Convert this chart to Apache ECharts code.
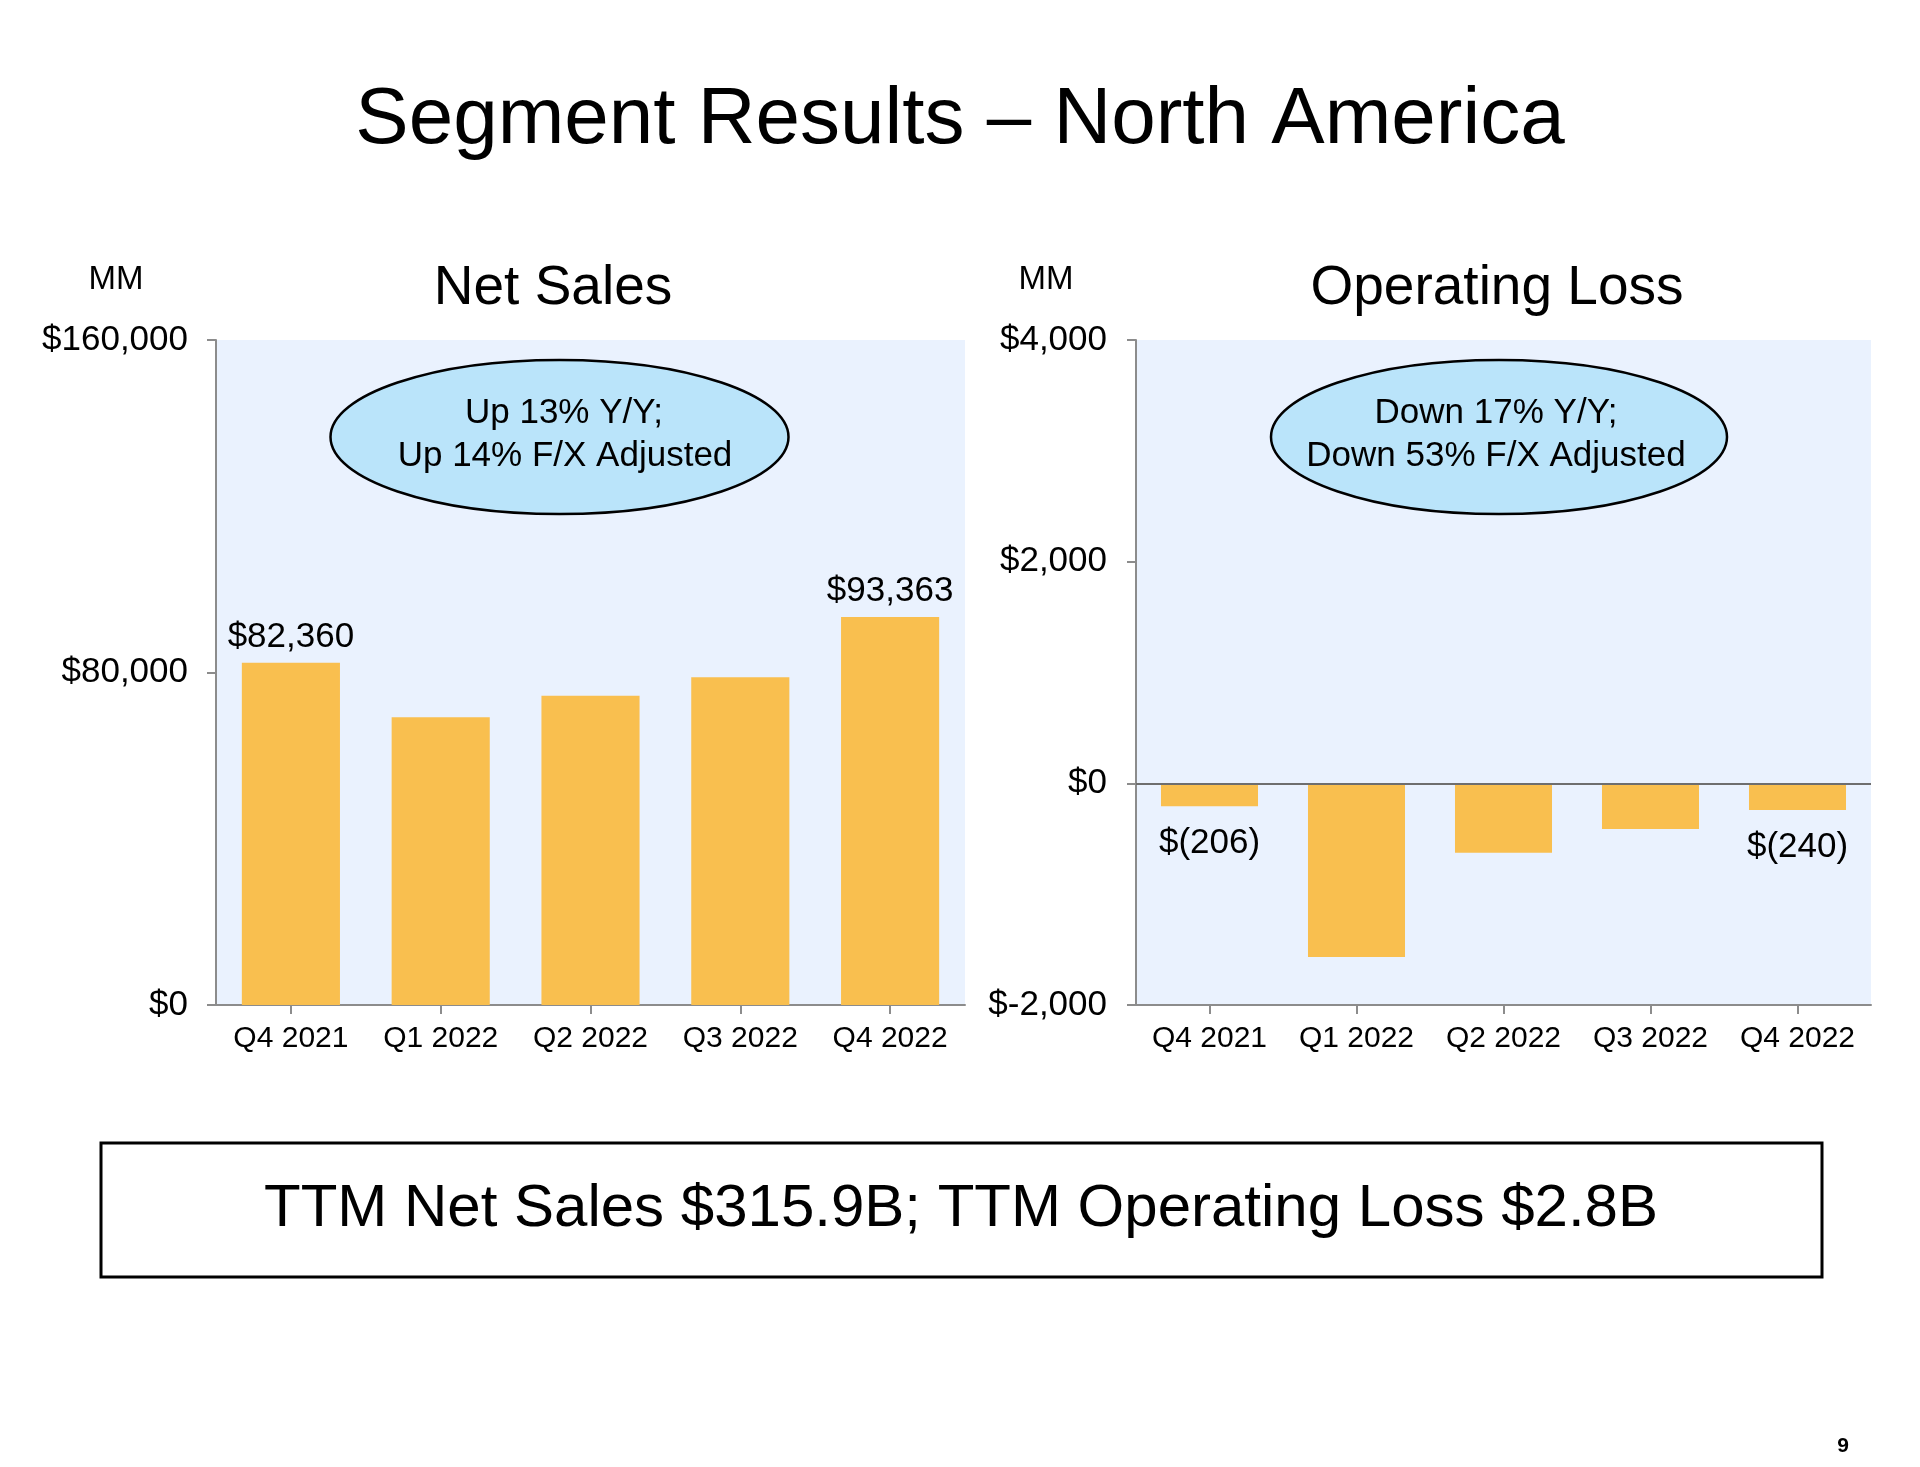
<!DOCTYPE html>
<html>
<head>
<meta charset="utf-8">
<script src="https://cdn.jsdelivr.net/npm/echarts@6/dist/echarts.min.js"></script>
<style>
html,body{margin:0;padding:0;background:#fff;}
#chart{width:1920px;height:1467px;}
</style>
</head>
<body>
<div id="chart"></div>
<script>
// ---- Data ----
const categories = ['Q4 2021', 'Q1 2022', 'Q2 2022', 'Q3 2022', 'Q4 2022'];
const netSales = [82360, 69244, 74430, 78843, 93363];
const operatingLoss = [-206, -1568, -627, -412, -240];
const netSalesTicks = [0, 80000, 160000];
const opLossTicks = [-2000, 0, 2000, 4000];
const netSalesLabelled = [0, 4];
const opLossLabelled = [0, 4];
const pageTitle = 'Segment Results \u2013 North America';
const leftTitle = 'Net Sales';
const rightTitle = 'Operating Loss';
const unitLabel = 'MM';
const leftNote = ['Up 13% Y/Y;', 'Up 14% F/X Adjusted'];
const rightNote = ['Down 17% Y/Y;', 'Down 53% F/X Adjusted'];
const footerText = 'TTM Net Sales $315.9B; TTM Operating Loss $2.8B';
const pageNumber = '9';

// ---- Styles ----
const FONT = "'Liberation Sans', Arial, Helvetica, sans-serif";
const BAR = '#F9BF4F';
const PLOTBG = '#EAF2FE';
const AXIS = '#8C8C8C';
const ELLIPSE = '#BAE4FA';

const fmtMoney = v => '$' + v.toLocaleString('en-US');
const fmtParen = v => v < 0 ? '$(' + Math.abs(v).toLocaleString('en-US') + ')' : fmtMoney(v);

function axisCommon() {
  return {
    axisLine: { show: true, onZero: false, lineStyle: { color: AXIS, width: 2 } },
    axisTick: { show: true, length: 9, lineStyle: { color: AXIS, width: 2 } },
    splitLine: { show: false }
  };
}

const chart = echarts.init(document.getElementById('chart'), null, { renderer: 'canvas' });

const option = {
  backgroundColor: '#ffffff',
  animation: false,
  textStyle: { fontFamily: FONT },
  grid: [
    { left: 216, top: 340, width: 749, height: 665, show: true, backgroundColor: PLOTBG, borderWidth: 0 },
    { left: 1136, top: 340, width: 735, height: 665, show: true, backgroundColor: PLOTBG, borderWidth: 0 }
  ],
  xAxis: [0, 1].map(i => Object.assign(axisCommon(), {
    type: 'category',
    gridIndex: i,
    data: categories,
    position: 'bottom',
    axisTick: { show: true, alignWithLabel: true, length: 9, lineStyle: { color: AXIS, width: 2 } },
    axisLabel: { color: '#000', fontSize: 30, fontFamily: FONT, margin: 19, interval: 0, hideOverlap: false }
  })),
  yAxis: [
    Object.assign(axisCommon(), {
      type: 'value', gridIndex: 0,
      min: netSalesTicks[0], max: netSalesTicks[netSalesTicks.length - 1],
      interval: netSalesTicks[1] - netSalesTicks[0],
      axisLabel: { color: '#000', fontSize: 35, fontFamily: FONT, margin: 28, formatter: fmtMoney, padding: [4, 0, 0, 0] }
    }),
    Object.assign(axisCommon(), {
      type: 'value', gridIndex: 1,
      min: opLossTicks[0], max: opLossTicks[opLossTicks.length - 1],
      interval: opLossTicks[1] - opLossTicks[0],
      axisLabel: { color: '#000', fontSize: 35, fontFamily: FONT, margin: 29, formatter: fmtMoney, padding: [4, 0, 0, 0] }
    })
  ],
  series: [
    {
      type: 'bar', xAxisIndex: 0, yAxisIndex: 0,
      barWidth: '65.5%',
      itemStyle: { color: BAR },
      data: netSales.map((v, i) => ({
        value: v,
        label: {
          show: netSalesLabelled.includes(i), position: 'top', distance: 8,
          color: '#000', fontSize: 35, fontFamily: FONT, formatter: p => fmtMoney(p.value)
        }
      }))
    },
    {
      type: 'bar', xAxisIndex: 1, yAxisIndex: 1,
      barWidth: '66%',
      itemStyle: { color: BAR },
      data: operatingLoss.map((v, i) => ({
        value: v,
        label: {
          show: opLossLabelled.includes(i), position: 'bottom', distance: 20,
          color: '#000', fontSize: 35, fontFamily: FONT, formatter: p => fmtParen(p.value)
        }
      })),
      markLine: {
        silent: true, symbol: 'none', animation: false,
        label: { show: false },
        lineStyle: { color: '#6E6E6E', width: 2, type: 'solid' },
        data: [{ yAxis: 0 }]
      }
    }
  ],
  graphic: [
    { type: 'text', x: 960, y: 121, style: { text: pageTitle, fontSize: 80, fontFamily: FONT, fill: '#000', align: 'center', verticalAlign: 'middle' } },
    { type: 'text', x: 553, y: 289, style: { text: leftTitle, fontSize: 55, fontFamily: FONT, fill: '#000', align: 'center', verticalAlign: 'middle' } },
    { type: 'text', x: 1497, y: 289, style: { text: rightTitle, fontSize: 55, fontFamily: FONT, fill: '#000', align: 'center', verticalAlign: 'middle' } },
    { type: 'text', x: 116, y: 280, style: { text: unitLabel, fontSize: 33, fontFamily: FONT, fill: '#000', align: 'center', verticalAlign: 'middle' } },
    { type: 'text', x: 1046, y: 280, style: { text: unitLabel, fontSize: 33, fontFamily: FONT, fill: '#000', align: 'center', verticalAlign: 'middle' } },
    { type: 'ellipse', shape: { cx: 559.5, cy: 437, rx: 229, ry: 77 }, style: { fill: ELLIPSE, stroke: '#000', lineWidth: 2.5 }, z: 100 },
    { type: 'ellipse', shape: { cx: 1499, cy: 437, rx: 228, ry: 77 }, style: { fill: ELLIPSE, stroke: '#000', lineWidth: 2.5 }, z: 100 },
    { type: 'text', x: 564, y: 413, z: 101, style: { text: leftNote[0], fontSize: 35, fontFamily: FONT, fill: '#000', align: 'center', verticalAlign: 'middle' } },
    { type: 'text', x: 565, y: 456, z: 101, style: { text: leftNote[1], fontSize: 35, fontFamily: FONT, fill: '#000', align: 'center', verticalAlign: 'middle' } },
    { type: 'text', x: 1496, y: 413, z: 101, style: { text: rightNote[0], fontSize: 35, fontFamily: FONT, fill: '#000', align: 'center', verticalAlign: 'middle' } },
    { type: 'text', x: 1496, y: 456, z: 101, style: { text: rightNote[1], fontSize: 35, fontFamily: FONT, fill: '#000', align: 'center', verticalAlign: 'middle' } },
    { type: 'rect', shape: { x: 101, y: 1143, width: 1721, height: 134 }, style: { fill: 'none', stroke: '#000', lineWidth: 3 } },
    { type: 'text', x: 961, y: 1209, style: { text: footerText, fontSize: 60, fontFamily: FONT, fill: '#000', align: 'center', verticalAlign: 'middle' } },
    { type: 'text', x: 1843, y: 1446, style: { text: pageNumber, fontSize: 21, fontWeight: 'bold', fontFamily: FONT, fill: '#000', align: 'center', verticalAlign: 'middle' } }
  ]
};

chart.setOption(option);
</script>
</body>
</html>
